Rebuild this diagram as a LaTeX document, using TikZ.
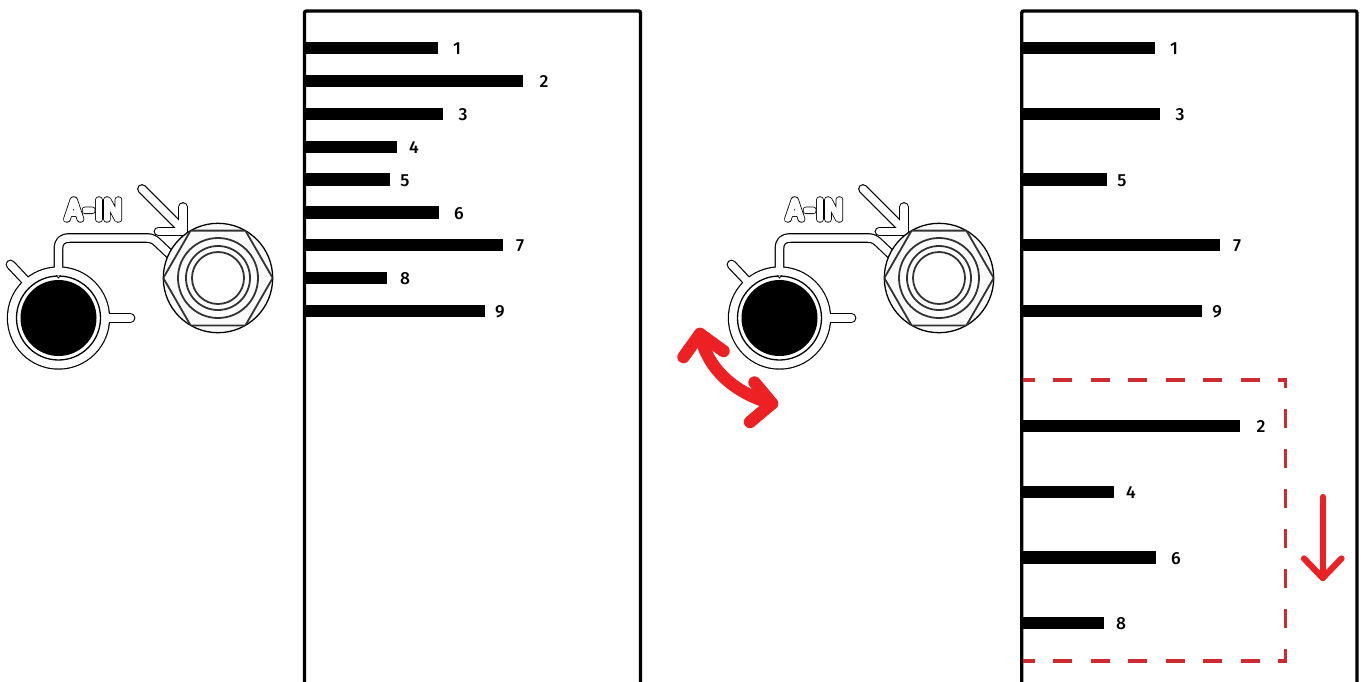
\documentclass[tikz,border=0pt]{standalone}
\usepackage{fontspec}
\setmainfont{Fira Sans Medium}
\newfontfamily\lightfont{Fira Sans ExtraLight}
\definecolor{redarrow}{HTML}{ED2024}
\definecolor{reddash}{HTML}{CE2A32}
\tikzset{
  panel/.style={draw=black,line width=3.4pt,rounded corners=2pt},
  bar/.style={fill=black,inner sep=0pt,minimum height=12.7pt,anchor=west},
  num/.style={font=\fontsize{17.5}{18}\selectfont,inner sep=0pt,text=black,yshift=-.8pt},
  outl/.style={draw=black,line width=1.3pt},
  ring/.style={draw=black!80,line width=1.8pt},
  bandout/.style={draw=black,line width=9.8pt,line join=round,line cap=round},
  bandin/.style={draw=white,line width=7.4pt,line join=round,line cap=round},
  redmark/.style={draw=redarrow,line cap=round,line join=round},
  dashline/.style={draw=reddash,line width=3.4pt},
}
\newcommand{\tubepath}{(58.5,280) -- (58.5,249) .. controls (58.5,241) and (62,238) .. (70,238) -- (147,238) .. controls (152,238) and (155,240) .. (158,243) -- (178,262)}
\newcommand{\stubA}{(10.5,264.5) -- (27,282)}
\newcommand{\stubB}{(105,318) -- (130.5,318)}
\newcommand{\arrowA}{(142,189) -- (182,229)}
\newcommand{\arrowB}{(183,207) -- (183,231.5) -- (158.5,231.5)}
\newcommand{\aintext}{\lightfont\fontsize{29}{29}\selectfont A\kern1pt-\kern.5pt I\kern0pt N}
\newcommand{\outtext}[1]{\special{pdf:code q 1 Tr 1 J 1 j #1}\aintext\special{pdf:code Q}}
\newcommand{\device}[2]{%
  \begin{scope}[xshift=#1pt]
    \draw[bandout] \arrowA; \draw[bandout] \arrowB;
    \draw[bandin] \arrowA; \draw[bandin] \arrowB;
    \fill[black] (58.5,318) circle (51.7);
    \draw[bandout,line cap=butt] \tubepath;
    \draw[bandout] \stubA; \draw[bandout] \stubB;
    \fill[white] (58.5,318) circle (50.5);
    \draw[bandin,line cap=butt] \tubepath;
    \draw[bandin,line cap=butt] (58.5,272) -- (58.5,282);
    \draw[bandin] \stubA; \draw[bandin] \stubB;
    \draw[outl,fill=white] (58.5,318) circle (42);
    \fill[black] (58.5,318) circle (38);
    \fill[white] (56.5,275.5) -- (60.5,275.5) -- (58.5,278.5) -- cycle;
    \draw[black,line width=.8pt] (56.5,275.4) -- (58.5,278) -- (60.5,275.4);
    \draw[outl,fill=black!2] (218,278) circle (54.7);
    \begin{scope}
      \clip (218,278) circle (54.7);
      \draw[ring] (163.3,278) -- (190.6,230.6) -- (245.4,230.6) -- (272.7,278) -- (245.4,325.4) -- (190.6,325.4) -- cycle;
    \end{scope}
    \draw[ring,fill=white] (218,278) circle (40);
    \draw[ring,fill=white] (218,278) circle (32);
    \draw[ring,fill=white] (218,278) circle (26);
    \node[inner sep=0pt,anchor=center] (#2) at (94,209.5) {\phantom{\aintext}};
    \node[inner sep=0pt,anchor=center] at (94,209.5) {\outtext{6.2 w}};
    \node[inner sep=0pt,anchor=center] at (94,209.5) {\outtext{4.6 w 1 1 1 RG}};
  \end{scope}}
\begin{document}
\begin{tikzpicture}[x=1pt,y=-1pt]
\useasboundingbox (0,0) rectangle (1361,681);
\fill[white] (0,0) rectangle (1361,681);

% left panel
\draw[panel] (304.5,690) -- (304.5,11) -- (640.5,11) -- (640.5,690);
\foreach \n/\y/\xe/\xl in {1/48/438/457,2/81/523/544,3/114/443/463,4/147/397/414,5/179.5/390/405,6/212.5/439/459,7/245/503/520,8/278/387/405,9/311/485/500}{
  \pgfmathsetmacro{\w}{\xe-304.5}
  \node[bar,minimum width=\w pt] (la\n) at (304.5,\y) {};
  \node[num] (ln\n) at (\xl,\y) {\n};
}

% right panel
\draw[panel] (1021.7,690) -- (1021.7,11) -- (1357,11) -- (1357,690);
\foreach \n/\y/\xe/\xl in {1/48/1155/1174,3/114/1160/1180,5/179.5/1107/1122,7/245/1220/1237,9/311/1202/1217,2/426/1240/1261,4/492/1114/1131,6/557.5/1156/1176,8/623/1104/1121}{
  \pgfmathsetmacro{\w}{\xe-1021.7}
  \node[bar,minimum width=\w pt] (ra\n) at (1021.7,\y) {};
  \node[num] (rn\n) at (\xl,\y) {\n};
}

% devices
\device{0}{ainL}
\device{721}{ainR}

% dashed box
\draw[dashline,dash pattern=on 19pt off 18.5pt,dash phase=7.3pt] (1023,380) -- (1287.2,380);
\draw[dashline,dash pattern=on 19pt off 18.5pt,dash phase=7.3pt] (1023,661) -- (1287.2,661);
\draw[dashline,dash pattern=on 19.5pt off 20.5pt,dash phase=9.5pt] (1285.5,378.3) -- (1285.5,662.7);

% down arrow
\coordinate (dtop) at (1322.7,497);
\coordinate (dtip) at (1322.7,578);
\coordinate (dl) at (1304,558.5);
\coordinate (dr) at (1341.5,558.5);
\draw[redmark,line width=6.2pt] (dtop) -- (dtip);
\draw[redmark,line width=6.2pt] (dl) -- (dtip) -- (dr);

% double curved arrow
\coordinate (ctop) at (700,334);
\coordinate (ctl) at (683.5,357);
\coordinate (ctr) at (723.5,351);
\coordinate (cbot) at (772,403.5);
\coordinate (cbu) at (754.5,382.5);
\coordinate (cbd) at (750,422);
\draw[redmark,line width=12.4pt] (ctop) .. controls (708,372) and (738,394) .. (cbot);
\draw[redmark,line width=12.4pt] (ctl) -- (ctop) -- (ctr);
\draw[redmark,line width=12.4pt] (cbu) -- (cbot) -- (cbd);
\end{tikzpicture}
\end{document}
